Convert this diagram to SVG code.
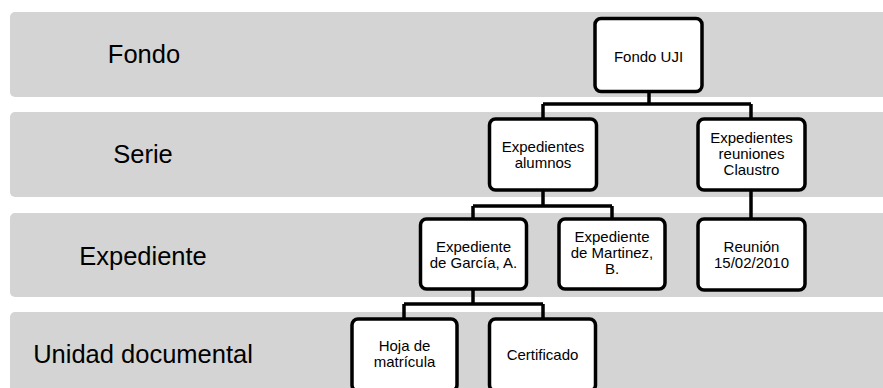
<svg xmlns="http://www.w3.org/2000/svg" width="883" height="388" viewBox="0 0 883 388">
<style>
.band{fill:#d4d4d4}
.lbl{font-family:"Liberation Sans",Arial,sans-serif;font-size:25.5px;fill:#000;text-anchor:middle}
.box{fill:#fff;stroke:#000;stroke-width:3.5}
.t{font-family:"Liberation Sans",Arial,sans-serif;font-size:15px;fill:#000;text-anchor:middle}
.c{fill:none;stroke:#000;stroke-width:3.5}
</style>
<rect width="883" height="388" fill="#fff"/>
<g id="bands">
<rect class="band" x="10" y="12" width="900" height="85" rx="5"/>
<rect class="band" x="10" y="112" width="900" height="85" rx="5"/>
<rect class="band" x="10" y="213" width="900" height="84" rx="5"/>
<rect class="band" x="10" y="312" width="900" height="90" rx="5"/>
<text class="lbl" x="144" y="63">Fondo</text>
<text class="lbl" x="143" y="163">Serie</text>
<text class="lbl" x="143" y="265">Expediente</text>
<text class="lbl" x="143" y="363">Unidad documental</text>
</g>
<g id="connectors">
<path class="c" d="M649 92V104M543 104H751M543 104V118M751 104V118"/>
<path class="c" d="M543 191V206M473 206H612M473 206V218M612 206V218"/>
<path class="c" d="M751 191V218"/>
<path class="c" d="M473 290V304M404 304H543M404 304V318M543 304V318"/>
</g>
<g id="n-fondo-uji">
<rect class="box" x="595" y="18.5" width="107" height="73" rx="6"/>
<text class="t" x="648.5" y="62">Fondo UJI</text>
</g>
<g id="n-exp-alumnos">
<rect class="box" x="489.5" y="119" width="107" height="71" rx="6"/>
<text class="t" x="543" y="152">Expedientes</text>
<text class="t" x="543" y="168">alumnos</text>
</g>
<g id="n-exp-claustro">
<rect class="box" x="698" y="119" width="107" height="71" rx="6"/>
<text class="t" x="751.5" y="143">Expedientes</text>
<text class="t" x="751.5" y="159">reuniones</text>
<text class="t" x="751.5" y="175">Claustro</text>
</g>
<g id="n-garcia">
<rect class="box" x="420.5" y="219" width="106" height="70" rx="6"/>
<text class="t" x="473.5" y="252">Expediente</text>
<text class="t" x="473.5" y="268">de García, A.</text>
</g>
<g id="n-martinez">
<rect class="box" x="559" y="219" width="106" height="70" rx="6"/>
<text class="t" x="612" y="242">Expediente</text>
<text class="t" x="612" y="258">de Martinez,</text>
<text class="t" x="612" y="274">B.</text>
</g>
<g id="n-reunion">
<rect class="box" x="698" y="219" width="107" height="71" rx="6"/>
<text class="t" x="751.5" y="252">Reunión</text>
<text class="t" x="751.5" y="268">15/02/2010</text>
</g>
<g id="n-hoja">
<rect class="box" x="352" y="319" width="105" height="72" rx="6"/>
<text class="t" x="404.5" y="351">Hoja de</text>
<text class="t" x="404.5" y="367">matrícula</text>
</g>
<g id="n-certificado">
<rect class="box" x="489.5" y="319" width="106" height="72" rx="6"/>
<text class="t" x="542.5" y="360">Certificado</text>
</g>
</svg>
